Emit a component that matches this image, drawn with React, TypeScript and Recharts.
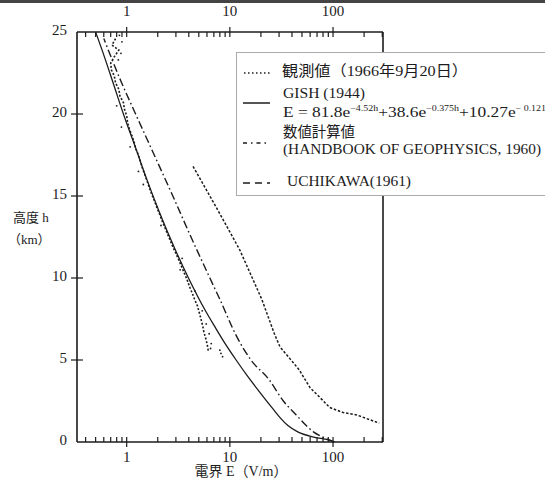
import React from 'react';
import { ComposedChart, Line, XAxis, YAxis } from 'recharts';

// ---- tick labels ----
const xMajorTicks = [1, 10, 100];
const xMinorTicks = [0.4, 0.5, 0.6, 0.7, 0.8, 0.9, 2, 3, 4, 5, 6, 7, 8, 9, 20, 30, 40, 50, 60, 70, 80, 90, 200, 300];
const yTicks = [0, 5, 10, 15, 20, 25];
const yInnerTicks = [5, 10, 15, 20];
const xDomain = [0.33, 305];
const yDomain = [0, 25];

// ---- GISH (1944) solid curve: height h (km), field E (V/m) ----
const gishH = [0, 0.1, 0.3, 0.6, 1, 1.5, 2, 3, 4, 5, 6, 7, 8, 10, 12, 14, 16, 18, 20, 22, 24, 25];
const gishE = [104, 94, 65, 46, 36.5, 30.5, 26.3, 19.7, 14.9, 11.5, 9.0, 7.2, 5.8, 3.97, 2.83, 2.08, 1.57, 1.21, 0.93, 0.73, 0.57, 0.5];

// ---- 数値計算値 (HANDBOOK OF GEOPHYSICS, 1960) dash-dot curve ----
const handbookH = [0, 0.3, 0.6, 1, 1.65, 2.5, 3.8, 5, 6.5, 8.7, 10, 12.5, 15, 17.5, 20, 22, 24.6];
const handbookE = [102, 80, 65, 55, 44, 33, 24, 16, 11.5, 8.0, 6.4, 4.2, 2.8, 1.85, 1.22, 0.88, 0.6];

// ---- UCHIKAWA (1961) short-dash curve ----
const uchikawaH = [16.8, 14.3, 11.7, 8.7, 6.6, 5.8, 5.1, 4.4, 3.3, 2.7, 2.1, 1.8, 1.65, 1.15];
const uchikawaE = [4.4, 7.4, 12.5, 20.4, 27, 30.6, 38, 47, 60, 75, 93, 125, 170, 280];

// ---- 観測値 (1966年9月20日) observed profile ----
const obsH = [24.6, 24.2, 23.9, 23.5, 23.1, 22.7, 22.3, 21.9, 21.5, 21.1, 20.7, 20.3, 19.9, 19.5, 19.1, 18.7, 18.3, 17.9, 17.5, 17.1, 16.7, 16.3, 15.9, 15.5, 15.1, 14.7, 14.3, 13.9, 13.5, 13.1, 12.7, 12.3, 11.9, 11.5, 11.1, 10.7, 10.3, 9.9, 9.5, 9.1, 8.7, 8.3, 7.9, 7.5, 7.1, 6.7, 6.3, 5.9, 5.5];
const obsE = [0.78, 0.72, 0.84, 0.76, 0.7, 0.71, 0.76, 0.78, 0.84, 0.86, 0.93, 0.95, 1.0, 1.02, 1.06, 1.12, 1.18, 1.22, 1.3, 1.36, 1.42, 1.5, 1.58, 1.66, 1.75, 1.86, 1.96, 2.08, 2.2, 2.34, 2.48, 2.64, 2.8, 3.0, 3.2, 3.4, 3.62, 3.85, 4.05, 4.3, 4.55, 4.85, 5.05, 5.25, 5.45, 5.6, 5.85, 6.05, 6.2];
const obsStrayH = [24.8, 24.4, 23.7, 23.3, 20.5, 19.2, 18.0, 16.5, 15.7, 13.2, 11.2, 10.5, 9.2, 8.0, 7.2, 6.6, 6.0, 5.7, 5.6, 5.4, 5.2];
const obsStrayE = [0.85, 0.9, 0.88, 0.83, 0.8, 0.89, 1.08, 1.3, 1.45, 2.15, 3.45, 3.3, 4.6, 5.4, 5.9, 6.3, 6.6, 6.5, 8.0, 8.2, 8.5];

const zip = (hs: number[], es: number[]) => hs.map((h, i) => ({ h, E: es[i] }));
const gishData = zip(gishH, gishE);
const handbookData = zip(handbookH, handbookE);
const uchikawaData = zip(uchikawaH, uchikawaE);
const obsData = zip(obsH, obsE);
const obsStrayData = zip(obsStrayH, obsStrayE);
const xTicks = [...xMinorTicks, ...xMajorTicks].sort((a, b) => a - b);

const INK = '#1c1c1c';
const SERIF = "'Liberation Serif', 'Noto Sans CJK JP', serif";
const CJK = "'Liberation Serif', 'Noto Sans CJK JP', serif";

function BottomTick(props: any) {
  const { x, y, payload } = props;
  const v = payload.value;
  const major = xMajorTicks.includes(v);
  return (
    <g>
      <line x1={x} x2={x} y1={major ? y + 5 : y} y2={y - 5} stroke={INK} strokeWidth={1.2} />
      {major && (
        <text x={x} y={y + 17} textAnchor="middle" dominantBaseline="middle" fontSize={15} fontFamily={SERIF} fill={INK}>
          {v}
        </text>
      )}
    </g>
  );
}

function TopTick(props: any) {
  const { x, y, payload } = props;
  const v = payload.value;
  const major = xMajorTicks.includes(v);
  return (
    <g>
      <line x1={x} x2={x} y1={major ? y - 5 : y} y2={y + 5} stroke={INK} strokeWidth={1.2} />
      {major && (
        <text x={x} y={y - 19} textAnchor="middle" dominantBaseline="middle" fontSize={15} fontFamily={SERIF} fill={INK}>
          {v}
        </text>
      )}
    </g>
  );
}

function LeftTick(props: any) {
  const { x, y, payload } = props;
  const v = payload.value;
  const inner = yInnerTicks.includes(v);
  return (
    <g>
      {inner && <line x1={x - 6} x2={x + 6} y1={y} y2={y} stroke={INK} strokeWidth={1.2} />}
      <text x={x - 10} y={y} textAnchor="end" dominantBaseline="middle" fontSize={15} fontFamily={SERIF} fill={INK}>
        {v}
      </text>
    </g>
  );
}

function RightTick(props: any) {
  const { x, y } = props;
  return <line x1={x - 6} x2={x + 6} y1={y} y2={y} stroke={INK} strokeWidth={1.2} />;
}

const axisLine = { stroke: INK, strokeWidth: 1.6 };

export default function App() {
  return (
    <div style={{ position: 'absolute', left: 0, top: 0, width: 545, height: 491, overflow: 'hidden', background: '#fff' }}>
      <ComposedChart width={545} height={491} margin={{ top: 12, left: 57, right: 142, bottom: 29 }}>
        <XAxis
          xAxisId="b"
          dataKey="E"
          type="number"
          scale="log"
          domain={xDomain}
          allowDataOverflow
          ticks={xTicks}
          interval={0}
          orientation="bottom"
          height={20}
          tickSize={0}
          tickMargin={0}
          tickLine={false}
          axisLine={axisLine}
          tick={BottomTick}
        />
        <XAxis
          xAxisId="t"
          dataKey="E"
          type="number"
          scale="log"
          domain={xDomain}
          allowDataOverflow
          ticks={xTicks}
          interval={0}
          orientation="top"
          height={20}
          tickSize={0}
          tickMargin={0}
          tickLine={false}
          axisLine={axisLine}
          tick={TopTick}
        />
        <YAxis
          yAxisId="l"
          type="number"
          domain={yDomain}
          ticks={yTicks}
          interval={0}
          width={20}
          tickSize={0}
          tickMargin={0}
          tickLine={false}
          axisLine={axisLine}
          tick={LeftTick}
        />
        <YAxis
          yAxisId="r"
          orientation="right"
          type="number"
          domain={yDomain}
          ticks={yInnerTicks}
          interval={0}
          width={20}
          tickSize={0}
          tickMargin={0}
          tickLine={false}
          axisLine={axisLine}
          tick={RightTick}
        />
        <Line xAxisId="b" yAxisId="l" data={obsData} dataKey="h" type="linear" stroke={INK} strokeWidth={1.6} strokeDasharray="2 1.8" dot={false} isAnimationActive={false} />
        <Line xAxisId="b" yAxisId="l" data={obsStrayData} dataKey="h" stroke="none" dot={{ r: 0.9, fill: INK, stroke: 'none' }} isAnimationActive={false} />
        <Line xAxisId="b" yAxisId="l" data={gishData} dataKey="h" type="monotone" stroke={INK} strokeWidth={1.3} dot={false} isAnimationActive={false} />
        <Line xAxisId="b" yAxisId="l" data={handbookData} dataKey="h" type="monotone" stroke={INK} strokeWidth={1.4} strokeDasharray="8 3 1.6 3" dot={false} isAnimationActive={false} />
        <Line xAxisId="b" yAxisId="l" data={uchikawaData} dataKey="h" type="linear" stroke={INK} strokeWidth={1.5} strokeDasharray="2.5 1.8" dot={false} isAnimationActive={false} />
      </ComposedChart>
      <svg width={545} height={491} style={{ position: 'absolute', left: 0, top: 0, pointerEvents: 'none' }}>
        <line x1={0} x2={545} y1={1.5} y2={1.5} stroke="#444" strokeWidth={3} />
        {/* legend */}
        <rect x={236.5} y={52.5} width={330} height={143} fill="#fff" stroke="#aaa" strokeWidth={1} />
        <line x1={244} x2={272} y1={73} y2={73} stroke={INK} strokeWidth={1.3} strokeDasharray="1.5 2.5" />
        <text x={282} y={73} dominantBaseline="middle" fontSize={15} fontFamily={CJK} fill={INK} textLength={186} lengthAdjust="spacingAndGlyphs">観測値（1966年9月20日）</text>
        <line x1={243} x2={270} y1={103} y2={103} stroke={INK} strokeWidth={1.5} />
        <text x={283} y={95} dominantBaseline="middle" fontSize={14.5} fontFamily={SERIF} fill={INK} textLength={82} lengthAdjust="spacingAndGlyphs">GISH (1944)</text>
        <text x={283} y={113.5} dominantBaseline="middle" fontSize={14} fontFamily={SERIF} fill={INK} textLength={268} lengthAdjust="spacingAndGlyphs">
          E = 81.8e<tspan fontSize={8} dy={-4.5}>−4.52h</tspan>
          <tspan dy={4.5}>+38.6e</tspan>
          <tspan fontSize={8} dy={-4.5}>−0.375h</tspan>
          <tspan dy={4.5}>+10.27e</tspan>
          <tspan fontSize={8} dy={-4.5}>− 0.121h</tspan>
        </text>
        <line x1={243} x2={269} y1={143} y2={143} stroke={INK} strokeWidth={1.4} strokeDasharray="4 4 1.5 4" />
        <text x={283} y={134} dominantBaseline="middle" fontSize={15} fontFamily={CJK} fill={INK} textLength={72} lengthAdjust="spacingAndGlyphs">数値計算値</text>
        <text x={283} y={151} dominantBaseline="middle" fontSize={15} fontFamily={SERIF} fill={INK} textLength={258} lengthAdjust="spacingAndGlyphs">(HANDBOOK OF GEOPHYSICS, 1960)</text>
        <line x1={243} x2={270} y1={183} y2={183} stroke={INK} strokeWidth={1.4} strokeDasharray="7 5" />
        <text x={287} y={183} dominantBaseline="middle" fontSize={15} fontFamily={SERIF} fill={INK} textLength={124} lengthAdjust="spacingAndGlyphs">UCHIKAWA(1961)</text>
        {/* axis titles */}
        <text x={13} y={219} dominantBaseline="middle" fontSize={13} fontFamily={CJK} fill={INK}>高度 h</text>
        <text x={8} y={241} dominantBaseline="middle" fontSize={13} fontFamily={CJK} fill={INK}>（km）</text>
        <text x={241} y={473} textAnchor="middle" dominantBaseline="middle" fontSize={14} fontFamily={CJK} fill={INK}>電界 E（V/m）</text>
      </svg>
    </div>
  );
}
